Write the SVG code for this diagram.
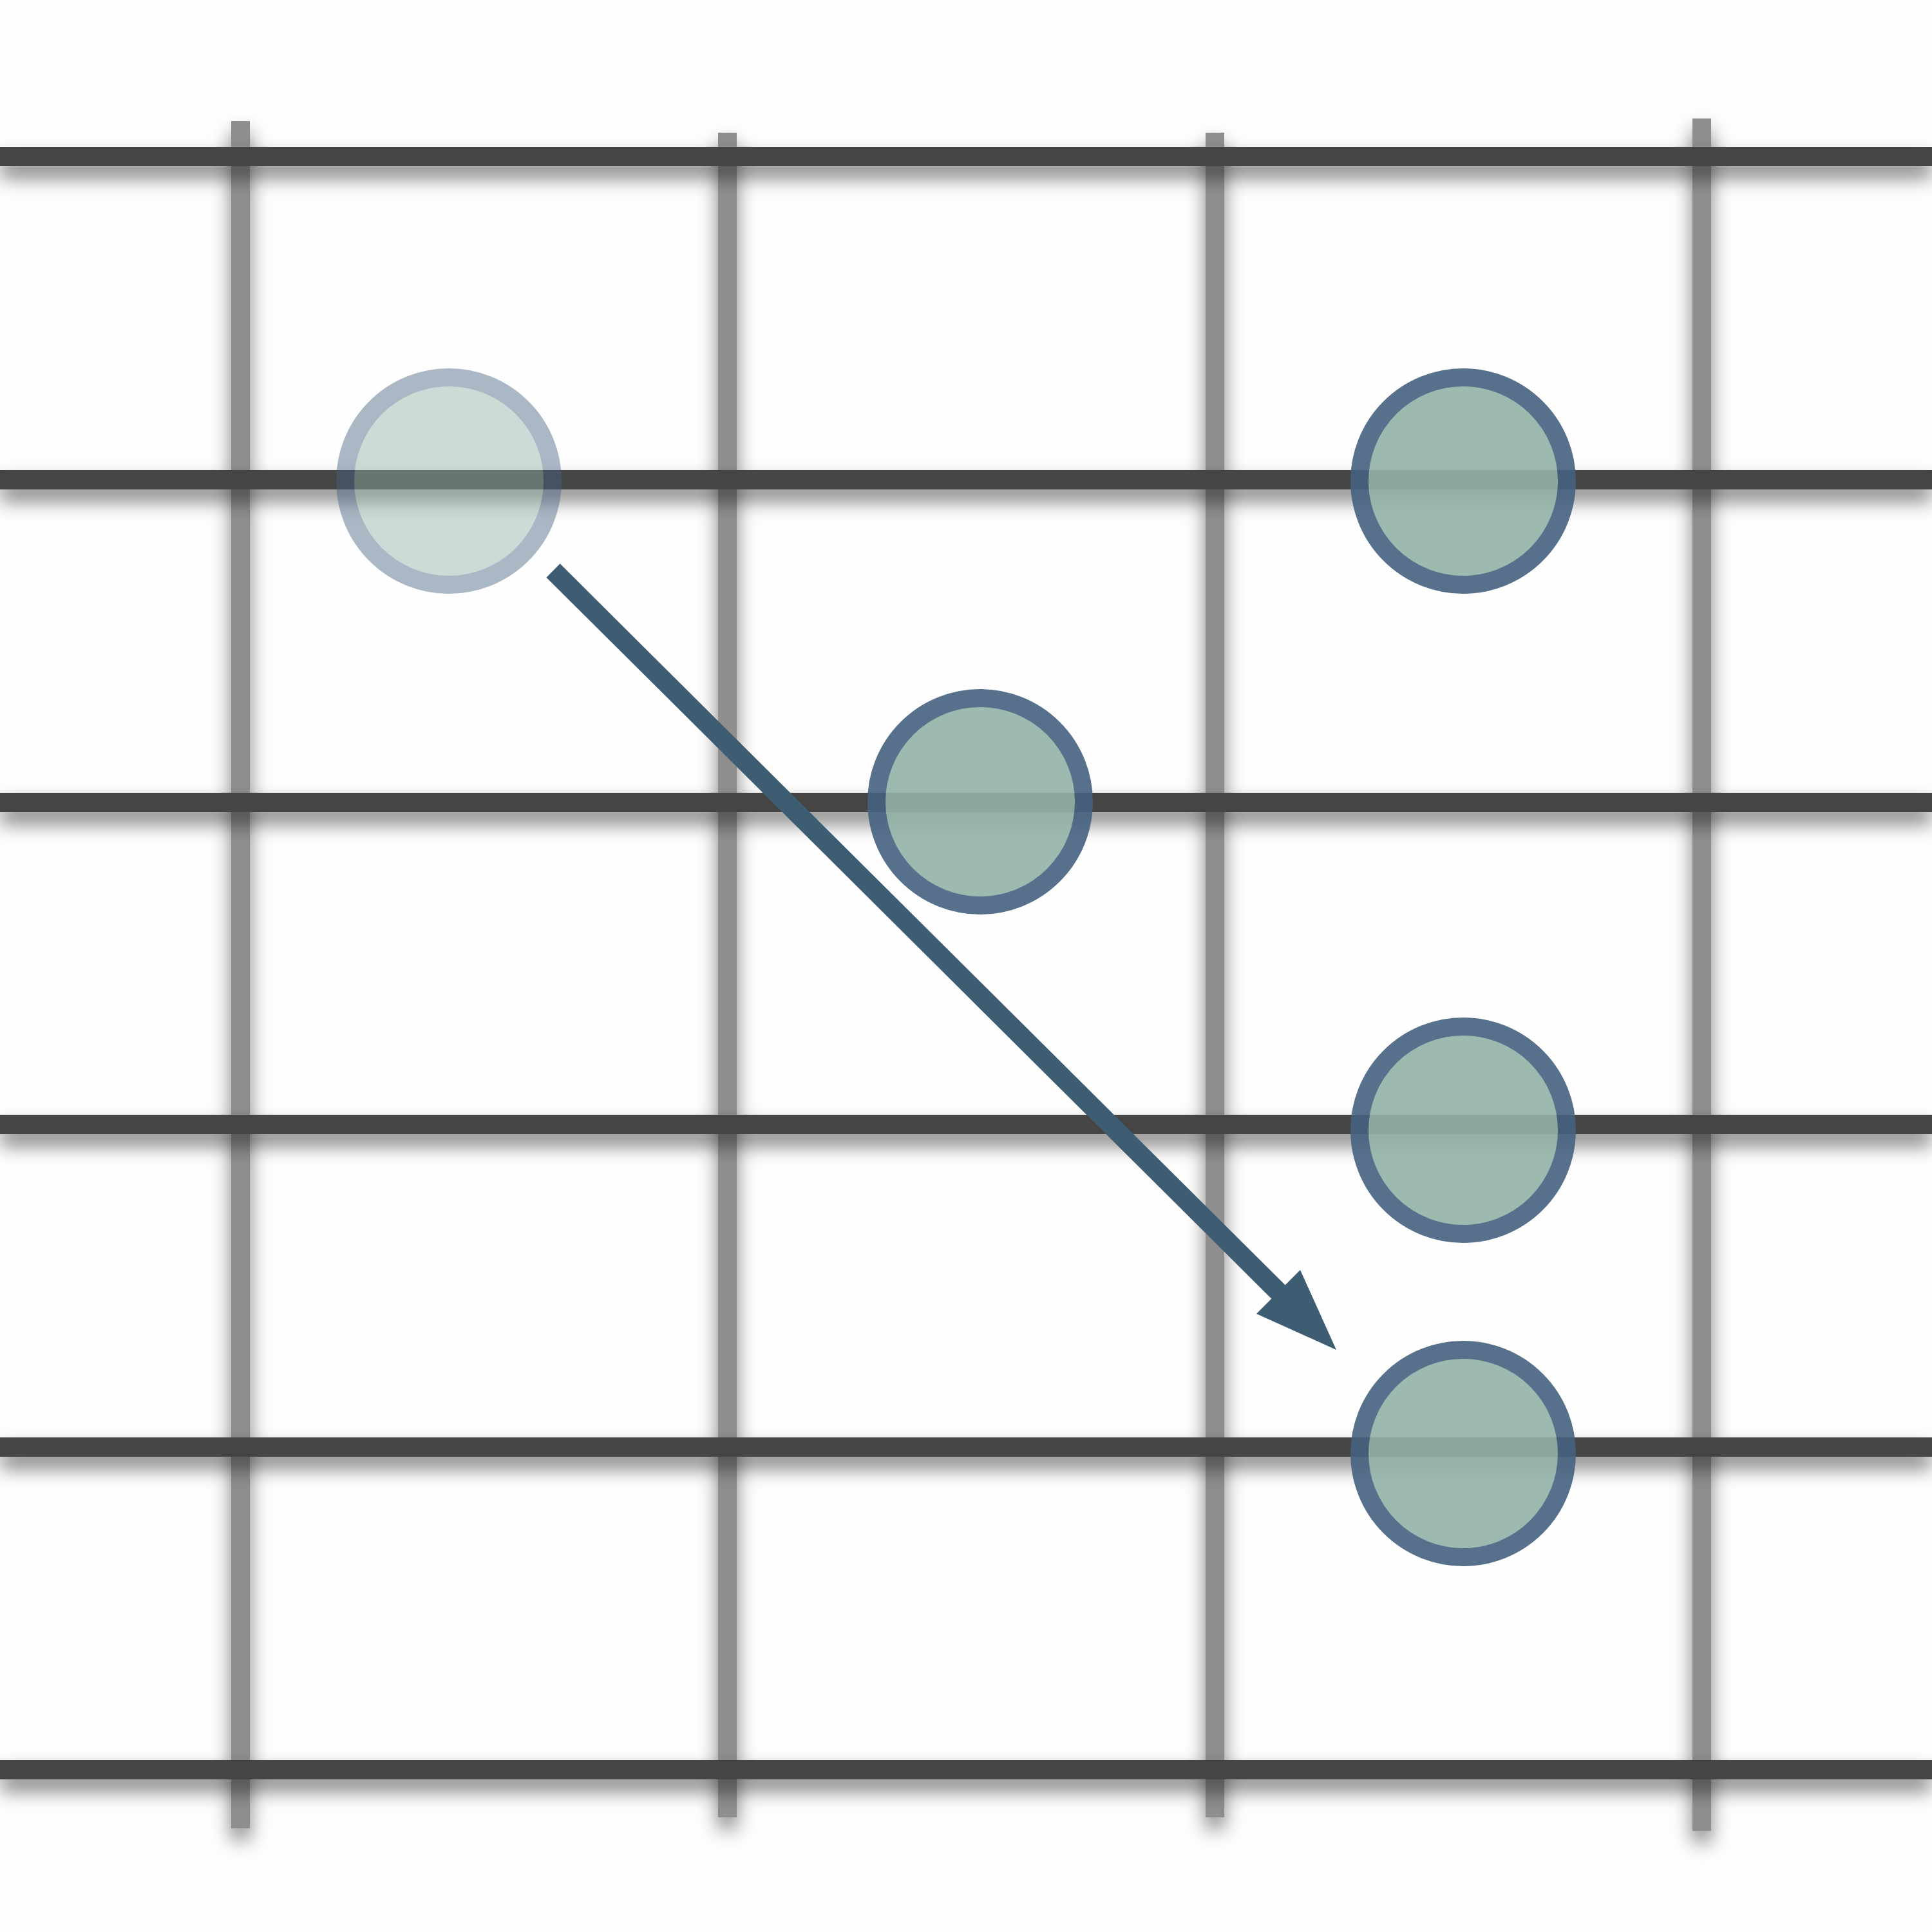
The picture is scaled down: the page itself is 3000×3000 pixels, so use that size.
<svg xmlns="http://www.w3.org/2000/svg" width="3000" height="3000" viewBox="0 0 3000 3000">
  <defs>
    <filter id="shadow" filterUnits="userSpaceOnUse" x="-100" y="-100" width="3200" height="3200">
      <feDropShadow dx="0" dy="18" stdDeviation="15" flood-color="#000" flood-opacity="0.5"/>
    </filter>
  </defs>
  <style>
    .fret { fill: #8e8e8e; }
    .string { fill: #444444; }
    .dot circle { fill: #94b2a8; stroke: #466280; stroke-width: 28; }
    .dot { opacity: 0.9; }
    .ghost { opacity: 0.45; }
    .arrow { stroke: #3e5c72; stroke-width: 30; stroke-linecap: butt; fill: none; }
    .head { fill: #3e5c72; }
  </style>
  <rect width="3000" height="3000" fill="#fefefe"/>
  <g id="frets" filter="url(#shadow)">
    <rect class="fret" x="359" y="188" width="29" height="2651"/>
    <rect class="fret" x="1115" y="206" width="29" height="2616"/>
    <rect class="fret" x="1872" y="206" width="29" height="2616"/>
    <rect class="fret" x="2628" y="184" width="29" height="2659"/>
  </g>
  <g id="strings" filter="url(#shadow)">
    <rect class="string" x="0" y="228" width="3000" height="30"/>
    <rect class="string" x="0" y="730" width="3000" height="30"/>
    <rect class="string" x="0" y="1231" width="3000" height="30"/>
    <rect class="string" x="0" y="1731" width="3000" height="30"/>
    <rect class="string" x="0" y="2232" width="3000" height="30"/>
    <rect class="string" x="0" y="2733" width="3000" height="30"/>
  </g>
  <g id="node-start" class="dot ghost"><circle cx="697" cy="747" r="161"/></g>
  <g id="node-a" class="dot"><circle cx="2272" cy="747" r="161"/></g>
  <g id="node-b" class="dot"><circle cx="1522" cy="1245" r="161"/></g>
  <g id="node-c" class="dot"><circle cx="2272" cy="1755" r="161"/></g>
  <g id="node-d" class="dot"><circle cx="2272" cy="2257" r="161"/></g>
  <g id="connectors">
    <line class="arrow" x1="859" y1="886" x2="1995" y2="2016"/>
    <polygon class="head" points="2075,2096 2019,1972 1951,2040"/>
  </g>
</svg>
